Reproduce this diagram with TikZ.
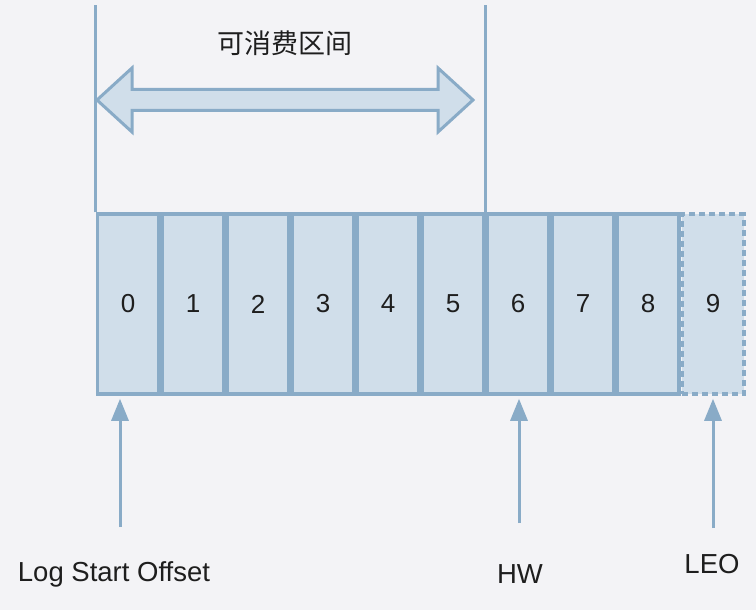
\documentclass[tikz,border=0pt]{standalone}
\usepackage{fontspec}
\setmainfont{Liberation Sans}
\newfontfamily\cjk{Noto Sans CJK SC}
\usetikzlibrary{arrows.meta,positioning}
\definecolor{logblue}{RGB}{137,171,199}
\definecolor{logfill}{RGB}{208,222,234}
\definecolor{paper}{RGB}{243,243,246}
\definecolor{ink}{RGB}{30,30,30}

\begin{document}
\begin{tikzpicture}[x=1pt, y=-1pt,
    cell/.style={rectangle, draw=logblue, fill=logfill, line width=3.5pt,
      minimum width=61.5pt, minimum height=180pt, inner sep=0pt,
      font=\fontsize{26}{30}\selectfont, text=ink},
    fence/.style={logblue, line width=3pt},
    pointer/.style={-{Triangle[length=22pt, width=17pt]}, logblue, line width=3pt, shorten >=3pt},
    tag/.style={font=\fontsize{27.5}{32}\selectfont, text=ink, inner sep=0pt}]

% page background
\fill[paper] (0,0) rectangle (756,610);
\useasboundingbox (0,0) rectangle (756,610);

% log segment: offsets 0..8 written, 9 is the next one
\foreach \i in {0,...,8} {
  \node[cell] (c\i) at (128+65*\i, 304) {\i};
}
\node[cell, dash pattern=on 6pt off 4pt] (c9) at (713, 304) {9};

% consumable range, bounded by two fences
\coordinate (top) at (0,5);
\draw[fence] (c0.north west) -- (c0.north west |- top);
\draw[fence] (c5.north east) -- (c5.north east |- top);
\draw[logblue, fill=logfill, line width=3pt, line join=miter]
  (97,100) -- (132,68) -- (132,89.5) -- (438,89.5) -- (438,68) -- (473,100)
  -- (438,132) -- (438,110.5) -- (132,110.5) -- (132,132) -- cycle;
\node[tag, font=\fontsize{27}{32}\selectfont\cjk] (range) at (285,43) {可消费区间};

% pointers from below
\coordinate (s0) at (120,527);
\coordinate (s6) at (519,523);
\coordinate (s9) at (713,528);
\draw[pointer] (s0) -- (s0 |- c0.south);
\draw[pointer] (s6) -- (s6 |- c6.south);
\draw[pointer] (s9) -- (s9 |- c9.south);

\node[tag] (lso) at (114,574) {Log Start Offset};
\node[tag] (hw)  at (520,574) {HW};
\node[tag] (leo) at (712,564) {LEO};

\end{tikzpicture}
\end{document}
